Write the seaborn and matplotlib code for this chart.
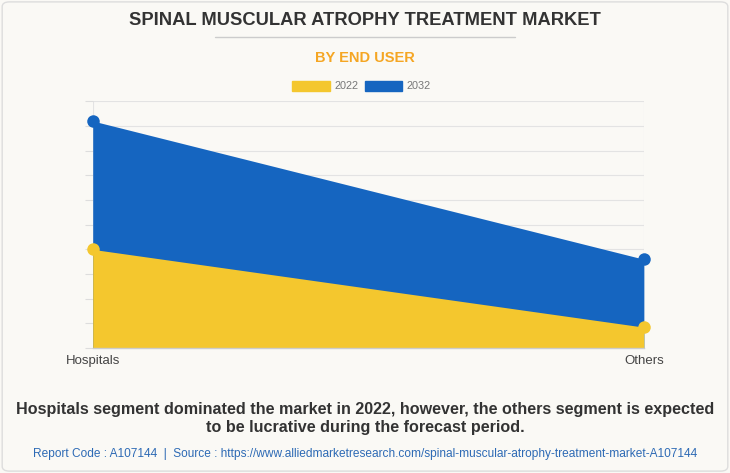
import matplotlib.pyplot as plt
import matplotlib.patches as mpatches
import numpy as np
import pandas as pd
import seaborn as sns

categories = ["Hospitals", "Others"]
years = ["2022", "2032"]
values_2022 = [4.0, 0.85]
values_2032 = [9.2, 3.6]
colors = {"2022": "#F4C72E", "2032": "#1565C0"}

sns.set_theme(style="whitegrid")
plt.rcParams["font.family"] = ["Liberation Sans", "DejaVu Sans"]

data = pd.DataFrame({
    "pos": list(range(len(categories))) * 2,
    "value": values_2022 + values_2032,
    "year": ["2022"] * len(categories) + ["2032"] * len(categories),
})

bg = "#FAF9F5"
fig = plt.figure(figsize=(7.3, 4.73), dpi=100, facecolor=bg)
ax = fig.add_axes([0.127, 0.264, 0.755, 0.522])
ax.set_facecolor(bg)

# Areas drawn overlapping: 2032 behind, 2022 in front
for year in ["2032", "2022"]:
    sub = data[data["year"] == year]
    ax.fill_between(sub["pos"], 0, sub["value"], color=colors[year], lw=0, zorder=2)
    sns.lineplot(x="pos", y="value", data=sub, color=colors[year], lw=0,
                 marker="o", markersize=9, markeredgewidth=0, ax=ax,
                 clip_on=False, zorder=3)

ax.set_xlim(0, len(categories) - 1)
ax.set_ylim(0, 10)
ax.set_xticks(range(len(categories)))
ax.set_xticklabels(categories, fontsize=9.5, color="#444444")
ax.set_yticks(np.arange(0, 11, 1))
ax.set_yticklabels([])
ax.tick_params(axis="y", length=6, color="#dddddd", width=0.8, left=True)
ax.tick_params(axis="x", length=0, pad=5)
ax.xaxis.label.set_visible(False)
ax.yaxis.label.set_visible(False)
ax.grid(True, color="#e3e3e3", lw=0.8)
for side in ["top", "right", "left"]:
    ax.spines[side].set_visible(False)
ax.spines["bottom"].set_color("#cccccc")
ax.spines["bottom"].set_linewidth(1)

# Title block
fig.text(0.5, 0.957, "SPINAL MUSCULAR ATROPHY TREATMENT MARKET",
         ha="center", va="center", fontsize=13.2, fontweight="bold",
         color="#333333")
fig.add_artist(plt.Line2D([215 / 730, 515 / 730], [1 - 37 / 473] * 2,
                          color="#cccccc", lw=1))
fig.text(0.5, 1 - 58 / 473, "BY END USER", ha="center", va="center",
         fontsize=10.5, fontweight="bold", color="#F5A623")

# Legend
handles = [mpatches.Patch(color=colors[y], label=y) for y in years]
fig.legend(handles=handles, loc="center", bbox_to_anchor=(0.495, 1 - 86 / 473),
           ncol=2, frameon=False, fontsize=7.8, handlelength=3.5, handleheight=1.1,
           columnspacing=0.6, handletextpad=0.4, labelcolor="#777777")

# Bottom caption
fig.text(0.5, 1 - 418 / 473,
         "Hospitals segment dominated the market in 2022, however, the others segment is expected\n"
         "to be lucrative during the forecast period.",
         ha="center", va="center", fontsize=11.6, fontweight="bold",
         color="#333333", linespacing=1.25)
fig.text(0.5, 1 - 454 / 473,
         "Report Code : A107144  |  Source : https://www.alliedmarketresearch.com/spinal-muscular-atrophy-treatment-market-A107144",
         ha="center", va="center", fontsize=8.6, color="#2d6ab5")

fig.add_artist(mpatches.FancyBboxPatch((0.003, 0.004), 0.994, 0.992,
                                       boxstyle="round,pad=0,rounding_size=0.01",
                                       transform=fig.transFigure, fill=False,
                                       ec="#dddddd", lw=1))

fig.savefig("out.png", dpi=100, facecolor=bg)
